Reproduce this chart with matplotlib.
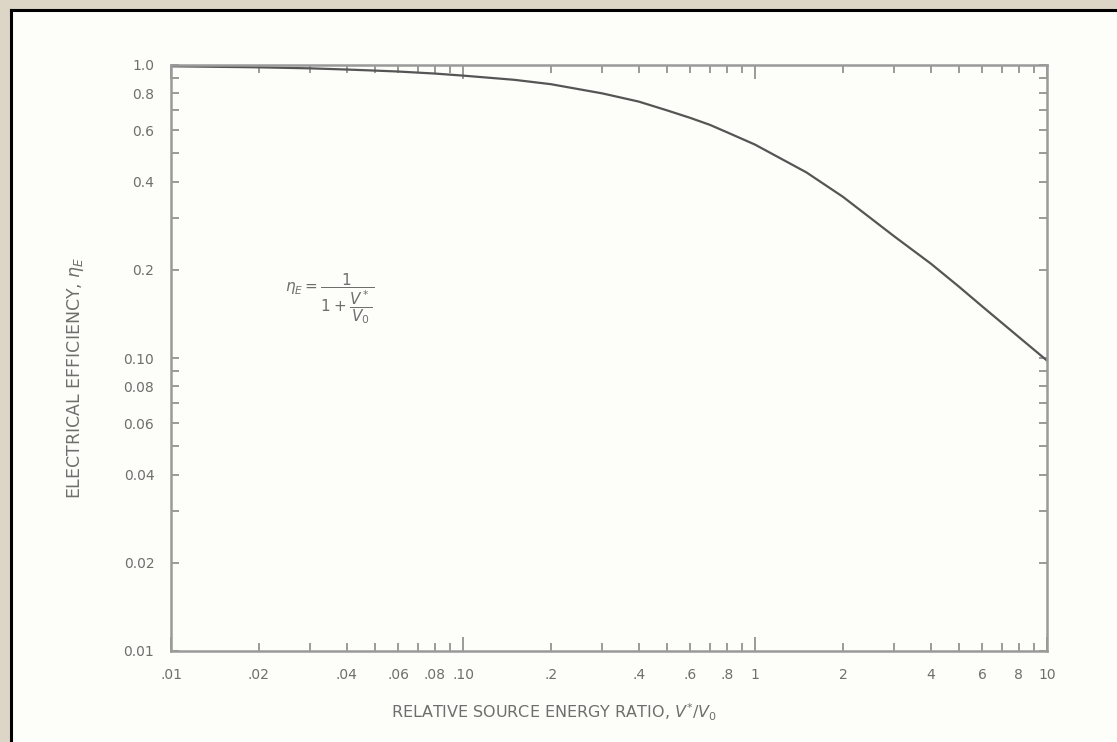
import matplotlib
matplotlib.use('Agg')
import matplotlib.pyplot as plt
from matplotlib.patches import Rectangle
from matplotlib.ticker import FixedLocator, FixedFormatter

# values
ratio = [0.01, 0.02, 0.03, 0.04, 0.05, 0.06, 0.08, 0.1, 0.15, 0.2, 0.3, 0.4, 0.5,
         0.6, 0.7, 0.8, 1, 1.5, 2, 3, 4, 5, 6, 8, 10]
efficiency = [0.99, 0.982, 0.974, 0.965, 0.957, 0.95, 0.935, 0.92, 0.89, 0.86, 0.80,
              0.75, 0.70, 0.66, 0.625, 0.59, 0.535, 0.43, 0.355, 0.26, 0.21, 0.175,
              0.15, 0.118, 0.098]

x_major = [0.01, 0.1, 1, 10]
x_major_labels = ['.01', '.10', '1', '10']
x_minor = [0.02, 0.03, 0.04, 0.05, 0.06, 0.07, 0.08, 0.09,
           0.2, 0.3, 0.4, 0.5, 0.6, 0.7, 0.8, 0.9,
           2, 3, 4, 5, 6, 7, 8, 9]
x_minor_labels = ['.02', '', '.04', '', '.06', '', '.08', '',
                  '.2', '', '.4', '', '.6', '', '.8', '',
                  '2', '', '4', '', '6', '', '8', '']

y_major = [0.01, 0.1, 1.0]
y_major_labels = ['0.01', '0.10', '1.0']
y_minor = [0.02, 0.03, 0.04, 0.05, 0.06, 0.07, 0.08, 0.09,
           0.2, 0.3, 0.4, 0.5, 0.6, 0.7, 0.8, 0.9]
y_minor_labels = ['0.02', '', '0.04', '', '0.06', '', '0.08', '',
                  '0.2', '', '0.4', '', '0.6', '', '0.8', '']

ink = '#6e6e6e'
line_col = '#555555'
spine_col = '#9a9a9a'

fig = plt.figure(figsize=(11.17, 7.42), dpi=100)
fig.patch.set_facecolor('#ddd5c6')

# white sheet with a dark edge on top and left
W, H = 1117, 742
sheet = Rectangle((11 / W, 0), 1 - 11 / W, 1 - 10 / H, transform=fig.transFigure,
                  facecolor='#fdfdf9', edgecolor='none', zorder=-10)
fig.add_artist(sheet)
fig.add_artist(plt.Line2D([11 / W, 1], [1 - 10 / H, 1 - 10 / H], color='black', lw=2.2,
                          transform=fig.transFigure, zorder=-5))
fig.add_artist(plt.Line2D([11 / W, 11 / W], [0, 1 - 10 / H], color='black', lw=2.2,
                          transform=fig.transFigure, zorder=-5))

ax = fig.add_axes([171 / W, 1 - 651 / H, 876 / W, 586 / H])
ax.set_zorder(5)
ax.set_facecolor('none')
ax.set_xscale('log')
ax.set_yscale('log')

ax.plot(ratio, efficiency, color=line_col, lw=1.6, solid_joinstyle='round')

ax.set_xlim(0.01, 10)
ax.set_ylim(0.01, 1.0)

ax.xaxis.set_major_locator(FixedLocator(x_major))
ax.xaxis.set_major_formatter(FixedFormatter(x_major_labels))
ax.xaxis.set_minor_locator(FixedLocator(x_minor))
ax.xaxis.set_minor_formatter(FixedFormatter(x_minor_labels))
ax.yaxis.set_major_locator(FixedLocator(y_major))
ax.yaxis.set_major_formatter(FixedFormatter(y_major_labels))
ax.yaxis.set_minor_locator(FixedLocator(y_minor))
ax.yaxis.set_minor_formatter(FixedFormatter(y_minor_labels))

for s in ax.spines.values():
    s.set_color(spine_col)
    s.set_linewidth(1.8)

ax.tick_params(axis='x', which='major', direction='in', length=10, width=1.4,
               color=spine_col, top=True, pad=12, labelsize=10, labelcolor=ink)
ax.tick_params(axis='x', which='minor', direction='in', length=6, width=1.4,
               color=spine_col, top=True, pad=12, labelsize=10, labelcolor=ink)
ax.tick_params(axis='y', which='both', direction='in', length=6, width=1.4,
               color=spine_col, right=True, pad=12, labelsize=10, labelcolor=ink)

# formula inset
ax.text(0.0245, 0.16, r'$\eta_E = \dfrac{1}{1+\dfrac{V^*}{V_0}}$', color=ink,
        fontsize=11, va='center')

fig.text(554 / W, 1 - 712 / H, 'RELATIVE SOURCE ENERGY RATIO, $V^{*}/V_0$', color=ink,
         fontsize=11.5, ha='center', va='center')
fig.text(76 / W, 1 - 378 / H, r'ELECTRICAL EFFICIENCY, $\eta_E$', color=ink,
         fontsize=12.5, ha='center', va='center', rotation=90)

fig.savefig('out.png', dpi=100, facecolor=fig.get_facecolor())
